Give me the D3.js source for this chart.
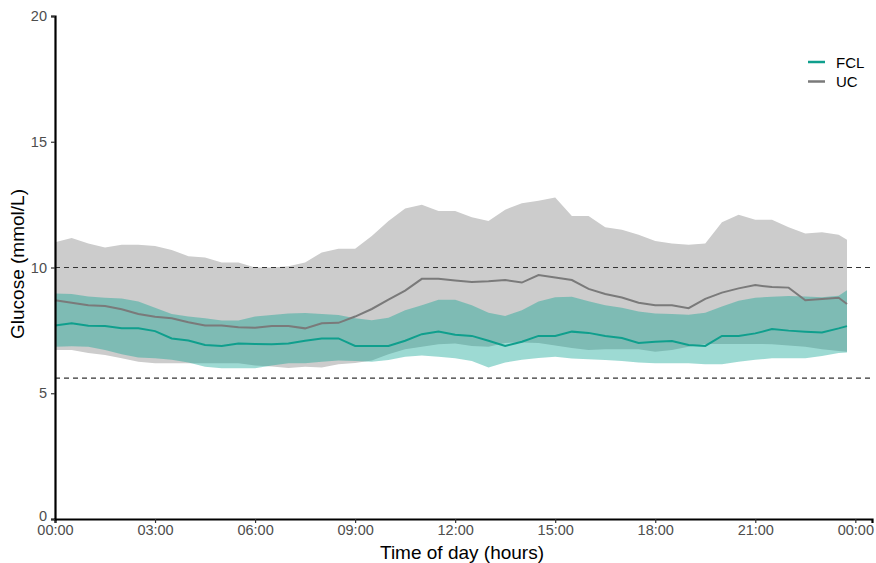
<!DOCTYPE html>
<html>
<head>
<meta charset="utf-8">
<script src="https://cdn.jsdelivr.net/npm/d3@7"></script>
<style>
  body { margin: 0; background: #fff; }
  svg { font-family: "Liberation Sans", Arial, sans-serif; }
</style>
</head>
<body>
<div id="chart"></div>
<script>
// hours of day
var hours = [0, 0.5, 1, 1.5, 2, 2.5, 3, 3.5, 4, 4.5, 5, 5.5, 6, 6.5, 7, 7.5, 8, 8.5, 9, 9.5,
  10, 10.5, 11, 11.5, 12, 12.5, 13, 13.5, 14, 14.5, 15, 15.5, 16, 16.5, 17, 17.5, 18, 18.5,
  19, 19.5, 20, 20.5, 21, 21.5, 22, 22.5, 23, 23.5, 23.75];

var ucUpper = [11.0, 11.17, 10.95, 10.8, 10.9, 10.9, 10.85, 10.7, 10.45, 10.4, 10.2, 10.2, 10.0, 10.0,
  10.05, 10.2, 10.6, 10.75, 10.75, 11.25, 11.85, 12.35, 12.5, 12.25, 12.25, 12.0, 11.85, 12.3, 12.55,
  12.65, 12.78, 12.05, 12.05, 11.6, 11.5, 11.3, 11.05, 10.95, 10.9, 10.95, 11.8, 12.1, 11.9, 11.9,
  11.6, 11.35, 11.4, 11.3, 11.1];
var ucMedian = [8.7, 8.6, 8.5, 8.47, 8.34, 8.15, 8.04, 7.98, 7.82, 7.69, 7.69, 7.62, 7.6, 7.67, 7.67,
  7.58, 7.78, 7.8, 8.05, 8.35, 8.72, 9.08, 9.55, 9.55, 9.48, 9.42, 9.45, 9.5, 9.4, 9.7, 9.6, 9.5,
  9.15, 8.95, 8.81, 8.6, 8.5, 8.5, 8.38, 8.75, 9.0, 9.17, 9.3, 9.22, 9.2, 8.7, 8.75, 8.8, 8.55];
var ucLower = [6.72, 6.72, 6.6, 6.52, 6.39, 6.25, 6.19, 6.19, 6.19, 6.19, 6.19, 6.19, 6.1, 6.06, 6.0,
  6.05, 6.02, 6.15, 6.2, 6.3, 6.55, 6.75, 6.85, 6.95, 6.98, 6.88, 6.85, 7.0, 7.02, 7.0, 6.9, 6.8,
  6.72, 6.75, 6.75, 6.75, 6.65, 6.72, 6.85, 6.96, 6.96, 6.96, 6.96, 6.95, 6.9, 6.85, 6.75, 6.68, 6.65];

var fclUpper = [8.97, 8.95, 8.85, 8.8, 8.77, 8.65, 8.4, 8.15, 8.05, 7.98, 7.89, 7.89, 8.05, 8.11, 8.17,
  8.19, 8.15, 8.11, 7.98, 7.9, 8.0, 8.3, 8.5, 8.72, 8.72, 8.5, 8.2, 8.07, 8.3, 8.65, 8.82, 8.84,
  8.66, 8.5, 8.4, 8.25, 8.17, 8.15, 8.12, 8.2, 8.45, 8.68, 8.8, 8.84, 8.87, 8.85, 8.82, 8.88, 9.1];
var fclMedian = [7.69, 7.78, 7.68, 7.67, 7.58, 7.58, 7.47, 7.18, 7.1, 6.92, 6.88, 6.98, 6.96, 6.95, 6.98,
  7.09, 7.18, 7.18, 6.88, 6.88, 6.88, 7.09, 7.35, 7.45, 7.33, 7.28, 7.09, 6.88, 7.05, 7.28, 7.28,
  7.45, 7.4, 7.28, 7.2, 7.0, 7.05, 7.08, 6.92, 6.88, 7.28, 7.28, 7.38, 7.55, 7.49, 7.45, 7.42, 7.58, 7.67];
var fclLower = [6.85, 6.87, 6.85, 6.72, 6.55, 6.42, 6.39, 6.33, 6.22, 6.05, 5.99, 5.99, 5.99, 6.1, 6.19,
  6.19, 6.25, 6.3, 6.28, 6.25, 6.32, 6.45, 6.5, 6.45, 6.39, 6.28, 6.02, 6.22, 6.33, 6.4, 6.45, 6.38,
  6.35, 6.32, 6.28, 6.22, 6.19, 6.19, 6.19, 6.15, 6.15, 6.25, 6.33, 6.39, 6.39, 6.39, 6.48, 6.6, 6.62];

var xTicks = [0, 3, 6, 9, 12, 15, 18, 21, 24];
var yTicks = [0, 5, 10, 15, 20];
var refLines = [10, 5.6];
var groups = ["FCL", "UC"];

var W = 876, H = 563;
var margin = { top: 16, right: 4, bottom: 44, left: 55 };

var svg = d3.select("#chart").append("svg")
  .attr("width", W)
  .attr("height", H);

var x = d3.scaleLinear().domain([0, 24.5]).range([margin.left, W - margin.right]);
var y = d3.scaleLinear().domain([0, 20]).range([H - margin.bottom, margin.top]);

function rows(lo, mid, hi) {
  return hours.map(function (h, i) { return { t: h, lo: lo[i], mid: mid[i], hi: hi[i] }; });
}
var uc = rows(ucLower, ucMedian, ucUpper);
var fcl = rows(fclLower, fclMedian, fclUpper);

var band = d3.area()
  .x(function (d) { return x(d.t); })
  .y0(function (d) { return y(d.lo); })
  .y1(function (d) { return y(d.hi); });
var line = d3.line()
  .x(function (d) { return x(d.t); })
  .y(function (d) { return y(d.mid); });

// ribbons
svg.append("path").datum(uc)
  .attr("fill", "#cccccc")
  .attr("d", band);
svg.append("path").datum(fcl)
  .attr("fill", "#0ba391")
  .attr("fill-opacity", 0.4)
  .attr("d", band);

// reference lines
svg.selectAll(".ref").data(refLines).enter().append("line")
  .attr("class", "ref")
  .attr("x1", x(0)).attr("x2", x(24.5))
  .attr("y1", function (d) { return y(d); })
  .attr("y2", function (d) { return y(d); })
  .attr("stroke", "#333")
  .attr("stroke-width", 1.2)
  .attr("stroke-dasharray", "5,4");

// median lines
svg.append("path").datum(uc)
  .attr("fill", "none")
  .attr("stroke", "#7a7a7a")
  .attr("stroke-width", 2)
  .attr("d", line);
svg.append("path").datum(fcl)
  .attr("fill", "none")
  .attr("stroke", "#0f9f8d")
  .attr("stroke-width", 2)
  .attr("d", line);

// axes
var xAxis = svg.append("g")
  .attr("transform", "translate(0," + y(0) + ")")
  .call(d3.axisBottom(x).tickValues(xTicks).tickSize(4).tickPadding(2)
    .tickFormat(function (d) { return d3.format("02d")(d % 24) + ":00"; }));
var yAxis = svg.append("g")
  .attr("transform", "translate(" + x(0) + ",0)")
  .call(d3.axisLeft(y).tickValues(yTicks).tickSize(4).tickPadding(4));

[xAxis, yAxis].forEach(function (g) {
  g.select(".domain").attr("stroke", "#000").attr("stroke-width", 2.2);
  g.selectAll(".tick line").attr("stroke", "#333").attr("stroke-width", 1.2);
  g.selectAll(".tick text").attr("fill", "#4d4d4d").style("font-size", "14.5px");
});
// lift the y "0" label slightly so it clears the x labels
yAxis.selectAll(".tick text").filter(function (d) { return d === 0; }).attr("dy", "0.1em");

// axis titles
svg.append("text")
  .attr("x", 462)
  .attr("y", 559)
  .attr("text-anchor", "middle")
  .style("font-size", "19px")
  .attr("fill", "#000")
  .text("Time of day (hours)");
svg.append("text")
  .attr("transform", "translate(24," + 264 + ") rotate(-90)")
  .attr("text-anchor", "middle")
  .style("font-size", "19px")
  .attr("fill", "#000")
  .text("Glucose (mmol/L)");

// legend
var legendColors = { FCL: "#0f9f8d", UC: "#7a7a7a" };
var legend = svg.selectAll(".legend").data(groups).enter().append("g")
  .attr("class", "legend")
  .attr("transform", function (d, i) { return "translate(808," + (62 + i * 19.5) + ")"; });
legend.append("line")
  .attr("x1", 0).attr("x2", 17)
  .attr("stroke", function (d) { return legendColors[d]; })
  .attr("stroke-width", 2.5);
legend.append("text")
  .attr("x", 28).attr("y", 5.5)
  .style("font-size", "15px")
  .attr("fill", "#000")
  .text(function (d) { return d; });
</script>
</body>
</html>
